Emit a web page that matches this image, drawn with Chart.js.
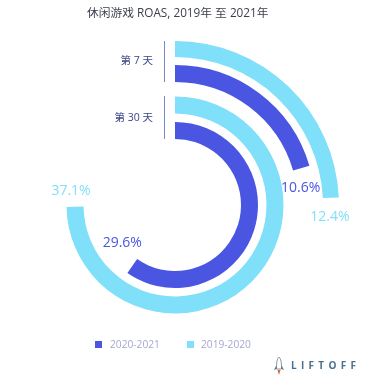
<!DOCTYPE html>
<html lang="zh">
<head>
    <meta charset="UTF-8">
    <title>休闲游戏 ROAS</title>
    <script src="https://cdn.jsdelivr.net/npm/chart.js"></script>
    <style>
        body { margin: 0; background: #fff; font-family: 'Open Sans', 'Noto Sans CJK SC', sans-serif; }
        .wrap { position: relative; width: 382px; height: 377px; overflow: hidden; }
        canvas { position: absolute; left: 0; top: 0; }
        .title { position: absolute; left: 87px; top: 3px; font-size: 11.75px; line-height: 18px; color: #3b3f4c; white-space: nowrap; }
        .ring-label { position: absolute; right: 229px; font-size: 10.5px; line-height: 14px; color: #3d4585; white-space: nowrap; }
        .tick { position: absolute; left: 164px; width: 1px; background: #7b86c8; }
        .legend-box { position: absolute; top: 341px; width: 7px; height: 7px; }
        .legend-text { position: absolute; top: 336px; font-size: 10.2px; line-height: 16px; color: #a5a8cf; white-space: nowrap; }
        .logo { position: absolute; left: 291px; top: 358px; font-size: 10px; line-height: 15px; font-weight: 700; letter-spacing: 4.3px; color: #4a6f8f; }
        .rocket { position: absolute; left: 273px; top: 356px; }
    </style>
</head>
<body>
    <div class="wrap" id="wrap">
        <canvas id="ringChart" width="382" height="377"></canvas>
        <div class="title">休闲游戏 ROAS, 2019年 至 2021年</div>
        <svg class="rocket" width="12" height="20" viewBox="0 0 12 20">
            <path d="M6 1 C8 3 8.5 6 8.5 13 L3.5 13 C3.5 6 4 3 6 1 Z" fill="#fff" stroke="#8a9299" stroke-width="1"/>
            <path d="M3.5 9 L1 14 L3.5 13 Z M8.5 9 L11 14 L8.5 13 Z" fill="#56708a"/>
            <path d="M4.5 14 L7.5 14 L6 19 Z" fill="#d9673a"/>
        </svg>
        <div class="logo">LIFTOFF</div>
    </div>

    <script>
        const categories = ['第 7 天', '第 30 天'];
        const seriesNames = ['2020-2021', '2019-2020'];
        // printed on the picture
        const labels2021 = ['10.6%', '29.6%'];
        const labels2019 = ['12.4%', '37.1%'];
        // arc lengths, they run a little off the printed numbers
        const values2021 = [10.24, 29.86];
        const values2019 = [12.13, 37.36];
        const fullCircle = 50; // a whole turn of the ring stands for 50%

        const darkBlue = '#4a56e2';
        const lightBlue = '#80dff9';

        function ring(value, label, color, weight, labelOffset) {
            return {
                data: [value, fullCircle - value],
                backgroundColor: [color, 'rgba(0,0,0,0)'],
                borderWidth: 0,
                weight: weight,
                labelText: label,
                labelColor: color,
                labelOffset: labelOffset
            };
        }
        // empty dataset, only holds the white gap between two rings
        function gap(weight) {
            return { data: [], weight: weight, borderWidth: 0 };
        }

        // value text next to the end of each arc
        const arcLabels = {
            id: 'arcLabels',
            afterDatasetsDraw(chart) {
                const ctx = chart.ctx;
                ctx.save();
                ctx.font = "14px 'Open Sans', sans-serif";
                ctx.textAlign = 'center';
                ctx.textBaseline = 'middle';
                chart.data.datasets.forEach((ds, i) => {
                    if (!ds.labelOffset) return;
                    const arc = chart.getDatasetMeta(i).data[0];
                    const r = (arc.innerRadius + arc.outerRadius) / 2;
                    const x = arc.x + Math.cos(arc.endAngle) * r + ds.labelOffset[0];
                    const y = arc.y + Math.sin(arc.endAngle) * r + ds.labelOffset[1];
                    ctx.fillStyle = ds.labelColor;
                    ctx.fillText(ds.labelText, x, y);
                });
                ctx.restore();
            }
        };

        new Chart(document.getElementById('ringChart').getContext('2d'), {
            type: 'doughnut',
            data: {
                labels: ['ROAS', ''],
                datasets: [
                    ring(values2019[0], labels2019[0], lightBlue, 16, [-1, 19]),
                    gap(8),
                    ring(values2021[0], labels2021[0], darkBlue, 17, [-0.5, 19.6]),
                    gap(14.5),
                    ring(values2019[1], labels2019[1], lightBlue, 17, [-4, -16]),
                    gap(8.5),
                    ring(values2021[1], labels2021[1], darkBlue, 17, [-10, -23.5])
                ]
            },
            options: {
                responsive: false,
                animation: false,
                cutout: 66,
                layout: { padding: { left: 11, right: 43, top: 41, bottom: 8 } },
                plugins: { legend: { display: false }, tooltip: { enabled: false } }
            },
            plugins: [arcLabels]
        });

        // ring names with their small vertical rule, and the legend
        const wrap = document.getElementById('wrap');
        function addDiv(cls, text, css) {
            const d = document.createElement('div');
            d.className = cls;
            d.textContent = text;
            Object.assign(d.style, css);
            wrap.appendChild(d);
        }
        const labelTops = ['53px', '110px'];
        const tickTops = [['41px', '41px'], ['96px', '43px']];
        categories.forEach((name, i) => {
            addDiv('ring-label', name, { top: labelTops[i] });
            addDiv('tick', '', { top: tickTops[i][0], height: tickTops[i][1] });
        });
        const legendBoxX = ['95px', '187px'];
        const legendTextX = ['110px', '201px'];
        const legendColors = [darkBlue, lightBlue];
        seriesNames.forEach((name, i) => {
            addDiv('legend-box', '', { left: legendBoxX[i], background: legendColors[i] });
            addDiv('legend-text', name, { left: legendTextX[i] });
        });
    </script>
</body>
</html>
